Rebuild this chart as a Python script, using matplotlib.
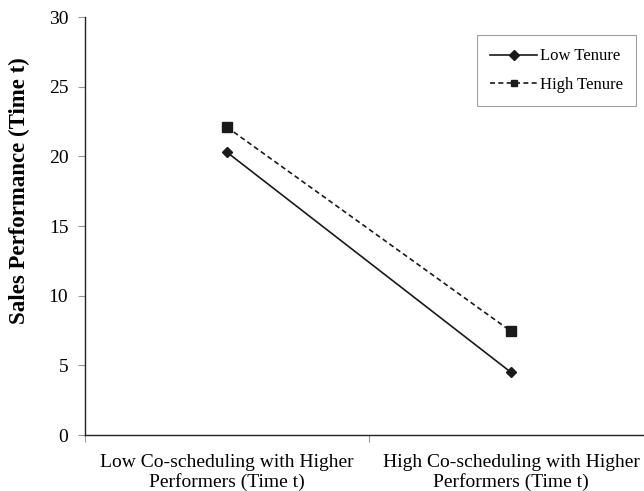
import matplotlib.pyplot as plt

plt.rcParams['font.family'] = ['Liberation Serif', 'DejaVu Serif']

categories = ['Low Co-scheduling with Higher\nPerformers (Time t)',
              'High Co-scheduling with Higher\nPerformers (Time t)']
low_tenure = [20.3, 4.5]
high_tenure = [22.1, 7.45]
yticks = [0, 5, 10, 15, 20, 25, 30]

fig = plt.figure(figsize=(6.44, 4.91), dpi=100)
ax = fig.add_axes([0.132, 0.114, 0.882, 0.851])

x = [0.5, 1.5]
ax.plot(x, low_tenure, color='#1a1a1a', lw=1.2, marker='D', ms=5.5, label='Low Tenure')
ax.plot(x, high_tenure, color='#1a1a1a', lw=1.2, ls=(0, (3, 2)), marker='s', ms=7.5, label='High Tenure')

ax.set_xlim(0, 2)
ax.set_ylim(0, 30)
ax.set_yticks(yticks)
ax.set_xticks([0, 1, 2])
ax.set_xticklabels([])
ax.set_xticks(x, minor=True)
ax.set_xticklabels(categories, minor=True, fontsize=14, linespacing=1.12)
ax.tick_params(axis='x', which='minor', length=0, pad=14)
ax.tick_params(axis='x', which='major', length=5, color='#999999', direction='out')
ax.tick_params(axis='y', length=5, color='#999999', labelsize=14, pad=7)

for s in ['top', 'right']:
    ax.spines[s].set_visible(False)
for s in ['left', 'bottom']:
    ax.spines[s].set_color('#222222')
    ax.spines[s].set_linewidth(1.0)

ax.set_ylabel('Sales Performance (Time t)', fontsize=16.5, fontweight='bold')
ax.yaxis.set_label_coords(-0.097, 0.584)

leg = ax.legend(loc='upper right', bbox_to_anchor=(0.970, 0.957), fontsize=12,
                frameon=True, fancybox=False, handlelength=2.8, labelspacing=0.75,
                borderpad=0.8, handletextpad=0.15, borderaxespad=0)
for h in leg.legend_handles:
    h.set_markersize(5)
leg.get_frame().set_edgecolor('#888888')
leg.get_frame().set_linewidth(0.8)

fig.savefig('out.png', dpi=100)
